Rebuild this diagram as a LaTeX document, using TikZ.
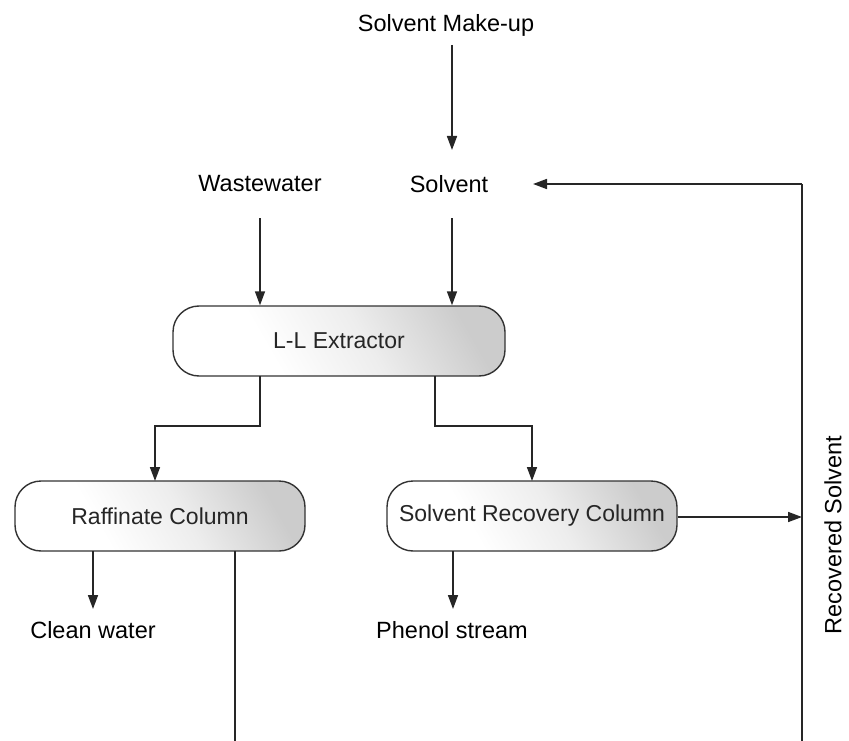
\documentclass[tikz,border=0pt]{standalone}
\usepackage{fontspec}
\setmainfont{Liberation Sans}
\usetikzlibrary{arrows.meta}
% white on the lower left, fading to light grey toward the upper right
\pgfdeclarehorizontalshading{unitshade}{100bp}{color(0bp)=(white); color(25bp)=(white); color(36bp)=(white); color(55bp)=(black!7); color(75bp)=(black!20); color(100bp)=(black!20)}
\begin{document}
\begin{tikzpicture}[x=1pt,y=-1pt,
  flow/.style={line width=1.6pt, draw=black!85},
  arr/.style={flow, -{Triangle[width=10pt,length=14pt]}},
  unit/.style={draw=black!80, line width=1.4pt, rounded corners=26pt,
    shading=unitshade, shading angle=30, minimum height=70pt, inner sep=0pt,
    font=\fontsize{23}{26}\selectfont, text=black!85},
  lbl/.style={font=\fontsize{23.5}{26}\selectfont, text=black, inner sep=0pt}]
\useasboundingbox (0,0) rectangle (849,741);

% stream labels
\node[lbl] (makeup) at (446,25) {Solvent Make-up};
\node[lbl] (waste) at (260,184) {Wastewater};
\node[lbl] (solvent) at (449,184) {Solvent};
\node[lbl] (clean) at (93,630) {Clean water};
\node[lbl] (phenol) at (452,630) {Phenol stream};
\node[lbl, rotate=90] (recov) at (833,535) {Recovered Solvent};

% process units
\node[unit, minimum width=332pt] (ext) at (339,341) {L-L Extractor};
\node[unit, minimum width=290pt] (raff) at (160,516) {Raffinate Column};
\node[unit, minimum width=290pt] (src) at (532,516) {Solvent Recovery Column};

% corner points of the piping
\coordinate (mkA) at (452,45);
\coordinate (mkB) at (452,150);
\coordinate (wwA) at (260,218);
\coordinate (svA) at (452,218);
\coordinate (rtop) at (802,184);
\coordinate (rin) at (533,184);
\coordinate (rbot) at (802,741);
\coordinate (rfeed) at (802,517);
\coordinate (rafbot) at (235,741);

% feeds
\draw[arr] (mkA) -- (mkB);
\draw[arr] (wwA) -- (wwA |- ext.north);
\draw[arr] (svA) -- (svA |- ext.north);

% extractor outlets
\draw[arr] (260,376) |- (155,426) -- (155,481);
\draw[arr] (435,376) |- (532,426) -- (532,481);

% column outlets
\draw[arr] (93,551) -- (93,609);
\draw[arr] (453,551) -- (453,609);
\draw[flow] (235,551) -- (rafbot);

% solvent recycle loop
\draw[arr] (src.east |- rfeed) -- (rfeed);
\draw[flow] (rbot) -- (rtop);
\draw[arr] (rtop) -- (rin);
\end{tikzpicture}
\end{document}
